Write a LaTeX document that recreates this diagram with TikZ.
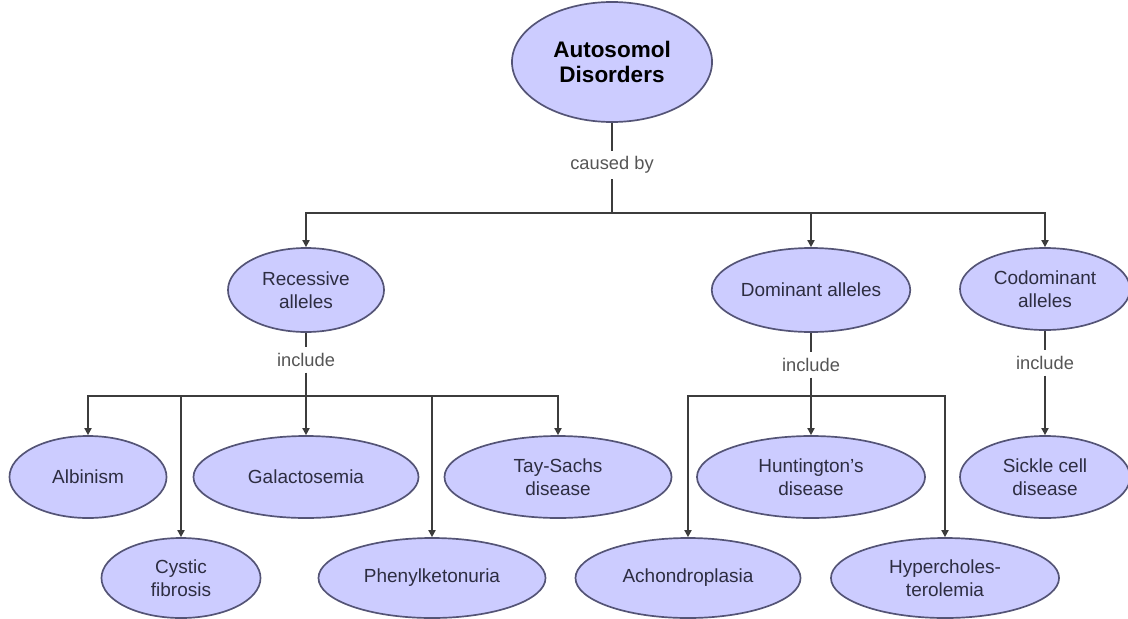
\documentclass[tikz,border=0pt]{standalone}
\usepackage{fontspec}
\setmainfont{Liberation Sans}
\usepackage{tikz}
\usetikzlibrary{shapes.geometric,arrows.meta}
\definecolor{mylavender}{RGB}{204,204,255}
\definecolor{myborder}{RGB}{84,84,118}
\definecolor{mytext}{RGB}{45,45,65}
\definecolor{myline}{RGB}{60,60,60}
\definecolor{mylabel}{RGB}{85,85,85}

\begin{document}
\begin{tikzpicture}[x=0.025cm,y=0.025cm,
  concept/.style={ellipse, draw=myborder, line width=1.2pt, fill=mylavender,
    text=mytext, inner sep=0pt, align=center, minimum height=2.05cm,
    minimum width=#1, font=\fontsize{13.5}{16.5}\selectfont},
  link/.style={text=mylabel, inner sep=4pt, font=\fontsize{13}{15}\selectfont},
  conn/.style={draw=myline, line width=1.2pt},
  arr/.style={conn, -{Triangle[length=5pt,width=5pt]}}]

  \useasboundingbox (0,0) rectangle (1128,-618);

  % top concept
  \node[concept=5cm, minimum height=3cm, text=black,
    font=\bfseries\fontsize{16}{18}\selectfont] (root) at (612,-62) {Autosomol\\Disorders};
  \node[link] (causedby) at (612,-165) {caused by};

  % kinds of alleles
  \node[concept=3.9cm, minimum height=2.1cm] (rec) at (306,-290) {Recessive\\alleles};
  \node[concept=4.375cm, minimum height=2.1cm] (dom) at (811,-290) {Dominant alleles};
  \node[concept=4.25cm] (codom) at (1045,-289) {Codominant\\alleles};

  \node[link] (incRec) at (306,-360) {include};
  \node[link] (incDom) at (811,-365) {include};
  \node[link] (incCo) at (1045,-363) {include};

  % disorders, upper row
  \node[concept=3.925cm] (alb) at (88,-477) {Albinism};
  \node[concept=5.625cm] (gal) at (306,-477) {Galactosemia};
  \node[concept=5.675cm] (tay) at (558,-477) {Tay-Sachs\\disease};
  \node[concept=5.7cm] (hunt) at (811,-477) {Huntington's\\disease};
  \node[concept=4.25cm] (sickle) at (1045,-477) {Sickle cell\\disease};

  % disorders, lower row
  \node[concept=3.975cm, minimum height=2cm] (cys) at (181,-578) {Cystic\\fibrosis};
  \node[concept=5.675cm, minimum height=2cm] (phe) at (432,-578) {Phenylketonuria};
  \node[concept=5.625cm, minimum height=2cm] (ach) at (688,-578) {Achondroplasia};
  \node[concept=5.7cm, minimum height=2cm] (hyp) at (945,-578) {Hypercholes-\\terolemia};

  % junctions
  \coordinate (busTop) at (612,-213);
  \coordinate (busRec) at (306,-396);
  \coordinate (busDom) at (811,-396);

  % caused by
  \draw[conn] (root) -- (causedby);
  \draw[arr] (causedby) -- (busTop) -| (rec);
  \draw[arr] (busTop) -| (dom);
  \draw[arr] (busTop) -| (codom);

  % recessive
  \draw[conn] (rec) -- (incRec);
  \draw[arr] (incRec) -- (gal);
  \draw[arr] (busRec) -| (alb);
  \draw[arr] (busRec) -| (cys);
  \draw[arr] (busRec) -| (phe);
  \draw[arr] (busRec) -| (tay);

  % dominant
  \draw[conn] (dom) -- (incDom);
  \draw[arr] (incDom) -- (hunt);
  \draw[arr] (busDom) -| (ach);
  \draw[arr] (busDom) -| (hyp);

  % codominant
  \draw[conn] (codom) -- (incCo);
  \draw[arr] (incCo) -- (sickle);
\end{tikzpicture}
\end{document}
